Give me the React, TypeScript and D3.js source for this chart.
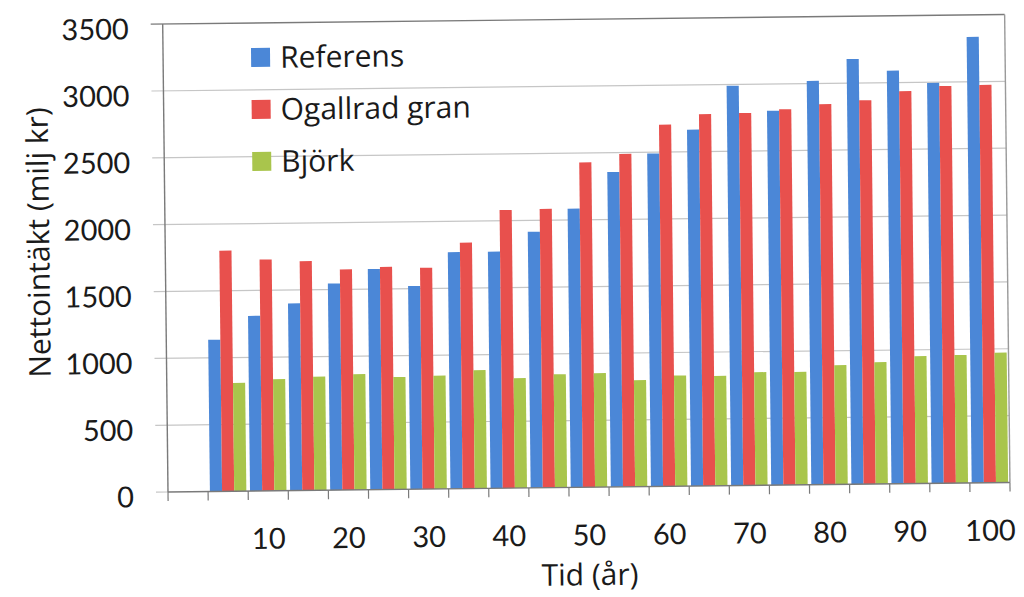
import React from "react";
import * as d3 from "d3";

const categories = ["0", "5", "10", "15", "20", "25", "30", "35", "40", "45", "50", "55", "60", "65", "70", "75", "80", "85", "90", "95", "100"];
const years = ["5", "10", "15", "20", "25", "30", "35", "40", "45", "50", "55", "60", "65", "70", "75", "80", "85", "90", "95", "100"];
const referens = [1135, 1310, 1400, 1545, 1650, 1520, 1770, 1770, 1915, 2085, 2355, 2490, 2665, 2990, 2800, 3020, 3180, 3090, 2995, 3335];
const ogallradGran = [1800, 1730, 1715, 1650, 1665, 1655, 1840, 2080, 2085, 2430, 2490, 2705, 2780, 2785, 2810, 2845, 2870, 2935, 2970, 2975];
const bjork = [810, 835, 850, 865, 840, 847, 885, 822, 847, 852, 797, 828, 822, 846, 845, 892, 911, 952, 957, 972];
const xTickLabels = ["10", "20", "30", "40", "50", "60", "70", "80", "90", "100"];
const yTicks = [0, 500, 1000, 1500, 2000, 2500, 3000, 3500];
const seriesNames = ["Referens", "Ogallrad gran", "Björk"];
const seriesColors = ["#4b87d7", "#e8504d", "#a9c54c"];

const NUM_FONT = "Lato, 'Open Sans', sans-serif";
const TXT_FONT = "'Open Sans', Lato, sans-serif";

export default function App() {
  const x0 = 168, x1 = 1010, yBase = 492, yTop = 24;
  const y = d3.scaleLinear().domain([0, 3500]).range([yBase, yTop]);
  const xb = d3.scaleBand<string>().domain(categories).range([x0, x1]).padding(0);
  const inner = d3.scaleBand<string>().domain(seriesNames).range([0, xb.bandwidth()]).paddingInner(0).paddingOuter(0.15);
  const series = [referens, ogallradGran, bjork];
  const bounds = categories.map((c) => xb(c) as number).concat([x1]);

  return (
    <svg width={1024} height={597} style={{ position: "absolute", left: 0, top: 0, background: "#fff" }} fontFamily={NUM_FONT}>
      <g transform={`rotate(-0.65, ${x0}, ${yBase})`}>
        {yTicks.slice(1, -1).map((t) => (
          <line key={"g" + t} x1={x0 - 12} x2={x1} y1={y(t)} y2={y(t)} stroke="#c6c6c6" strokeWidth={1.2} />
        ))}
        <line x1={x0 - 12} x2={x0} y1={y(0)} y2={y(0)} stroke="#c6c6c6" strokeWidth={1.2} />
        <line x1={x0 - 12} x2={x1} y1={y(3500)} y2={y(3500)} stroke="#7a7a7a" strokeWidth={1.4} />
        <line x1={x1} x2={x1} y1={yTop} y2={yBase} stroke="#9a9a9a" strokeWidth={1.4} />
        {series.map((vals, si) =>
          vals.map((v, i) => (
            <rect
              key={si + "-" + i}
              x={(xb(years[i]) as number) + (inner(seriesNames[si]) as number)}
              y={y(v)}
              width={inner.bandwidth()}
              height={y(0) - y(v)}
              fill={seriesColors[si]}
            />
          ))
        )}
        <line x1={x0} x2={x0} y1={yTop} y2={yBase} stroke="#7a7a7a" strokeWidth={1.4} />
        <line x1={x0} x2={x1} y1={yBase} y2={yBase} stroke="#7a7a7a" strokeWidth={1.4} />
        {bounds.map((bx, i) => (
          <line key={"t" + i} x1={bx} x2={bx} y1={yBase} y2={yBase + 9} stroke="#7a7a7a" strokeWidth={1.2} />
        ))}
        {yTicks.map((t) => (
          <text key={"yl" + t} x={134} y={y(t) + 15} textAnchor="end" fontSize={29} fill="#1a1a1a">
            {t}
          </text>
        ))}
        {xTickLabels.map((l) => (
          <text key={"xl" + l} x={(xb(l) as number) + xb.bandwidth() / 2} y={yBase + 58} textAnchor="middle" fontSize={29} fill="#1a1a1a">
            {l}
          </text>
        ))}
        <text x={(x0 + x1) / 2} y={590} textAnchor="middle" fontSize={30} fontFamily={TXT_FONT} fill="#1a1a1a">
          Tid (år)
        </text>
        <text transform={`translate(52, 241) rotate(-90)`} textAnchor="middle" fontSize={30} fontFamily={TXT_FONT} fill="#1a1a1a">
          Nettointäkt (milj kr)
        </text>
        {seriesNames.map((n, i) => (
          <g key={n} transform={`translate(256, ${49 + i * 52})`}>
            <rect x={0} y={0} width={19} height={19} fill={seriesColors[i]} />
            <text x={29} y={20} fontSize={30} fontFamily={TXT_FONT} fill="#1a1a1a">
              {n}
            </text>
          </g>
        ))}
      </g>
    </svg>
  );
}
